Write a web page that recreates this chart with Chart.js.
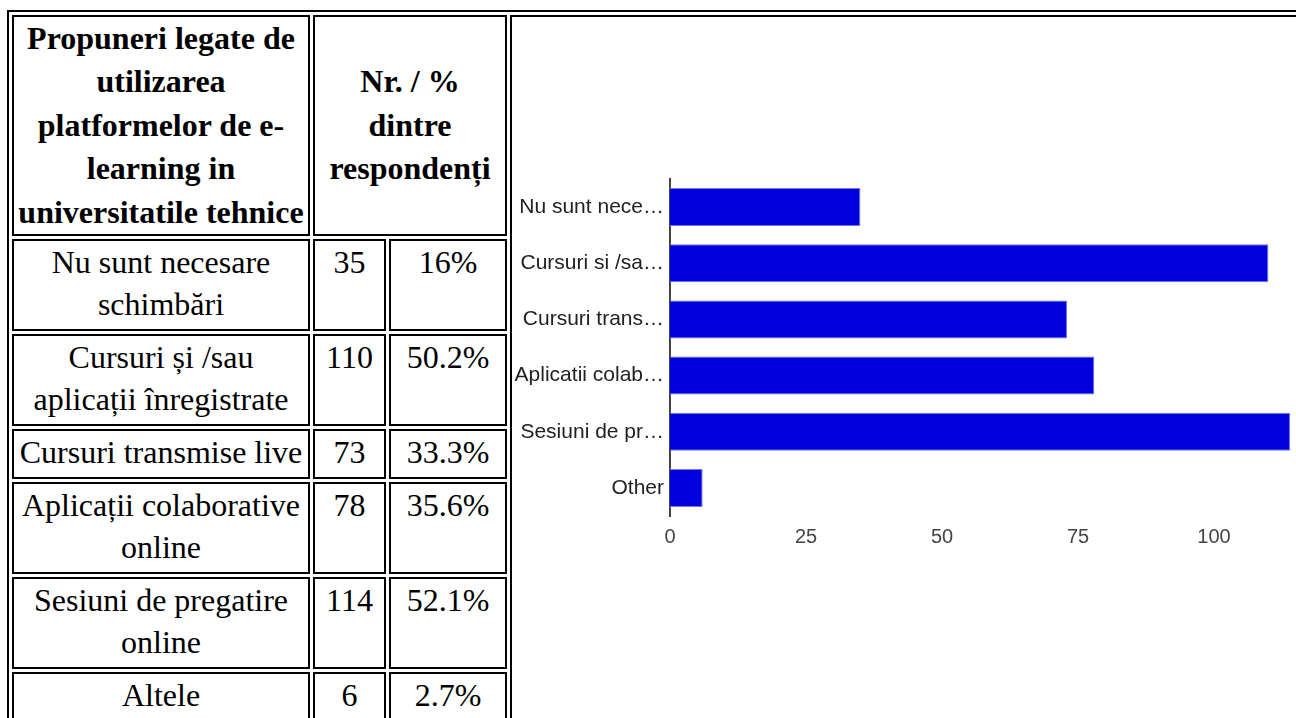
<!DOCTYPE html>
<html>
<head>
<meta charset="utf-8">
<script src="https://cdn.jsdelivr.net/npm/chart.js"></script>
<style>
  html, body { margin: 0; overflow: hidden; background: #fff; }
  body { width: 2000px; }
  table {
    margin: 10px 0 0 7px;
    border: 2px solid #000;
    border-spacing: 3px;
    font-family: "Liberation Serif", "Times New Roman", serif;
    font-size: 32px;
    color: #000;
  }
  th, td { border: 2px solid #000; padding: 0 1px 4px 1px; white-space: nowrap; line-height: 42px; }
  th { line-height: 43.4px; padding: 0 1px; vertical-align: middle; text-align: center; }
  td { vertical-align: top; text-align: center; }
  td.c1 { width: 292px; }
  td.c2 { width: 67px; }
  td.c3 { width: 112px; }
  td.chart { padding: 0; width: 880px; line-height: normal; }
  canvas { display: block; }
</style>
</head>
<body>
<table id="tbl">
  <tr>
    <th>Propuneri legate de<br>utilizarea<br>platformelor de e-<br>learning in<br>universitatile tehnice</th>
    <th colspan="2">Nr. / %<br>dintre<br>respondenți</th>
    <td class="chart" rowspan="7"><canvas id="myChart" width="880" height="600"></canvas></td>
  </tr>
</table>
<script>
// table rows
const rowLabels = [
  'Nu sunt necesare<br>schimbări',
  'Cursuri și /sau<br>aplicații înregistrate',
  'Cursuri transmise live',
  'Aplicații colaborative<br>online',
  'Sesiuni de pregatire<br>online',
  'Altele'
];
const rowCounts = [35, 110, 73, 78, 114, 6];
const rowPercents = ['16%', '50.2%', '33.3%', '35.6%', '52.1%', '2.7%'];

// chart data
const categories = ['Nu sunt nece…', 'Cursuri si /sa…', 'Cursuri trans…', 'Aplicatii colab…', 'Sesiuni de pr…', 'Other'];
const counts = [35, 110, 73, 78, 114, 6];
const tickValues = [0, 25, 50, 75, 100, 125];

const tbody = document.getElementById('tbl').tBodies[0];
rowLabels.forEach((label, i) => {
  const tr = document.createElement('tr');
  tr.innerHTML = '<td class="c1">' + label + '</td><td class="c2">' + rowCounts[i] +
    '</td><td class="c3">' + rowPercents[i] + '</td>';
  tbody.appendChild(tr);
});

Chart.defaults.font.family = 'Arial, "Liberation Sans", sans-serif';
Chart.defaults.font.size = 20;

const ctx = document.getElementById('myChart');
const chart = new Chart(ctx, {
  type: 'bar',
  data: {
    labels: categories,
    datasets: [{
      data: counts,
      backgroundColor: '#0000dd',
      borderColor: '#7575f0',
      borderWidth: 1,
      borderSkipped: 'start',
      barPercentage: 0.677,
      categoryPercentage: 1
    }]
  },
  options: {
    indexAxis: 'y',
    responsive: false,
    animation: false,
    layout: { padding: { top: 162, bottom: 61, left: 0, right: 42 } },
    plugins: { legend: { display: false }, tooltip: { enabled: false } },
    scales: {
      x: {
        min: tickValues[0],
        max: tickValues[tickValues.length - 1],
        afterBuildTicks: (s) => { s.ticks = tickValues.map(v => ({ value: v })); },
        afterFit: (s) => { s.height = 40; },
        grid: { display: false, drawTicks: false },
        border: { display: false },
        ticks: { color: '#444', padding: 9, maxRotation: 0, autoSkip: false }
      },
      y: {
        afterFit: (s) => { s.width = 158; },
        grid: { display: false, drawTicks: false },
        border: { display: true, color: '#444', width: 2 },
        ticks: { color: '#222', padding: 6, autoSkip: false, font: { size: 21 } }
      }
    }
  }
});
</script>
</body>
</html>
